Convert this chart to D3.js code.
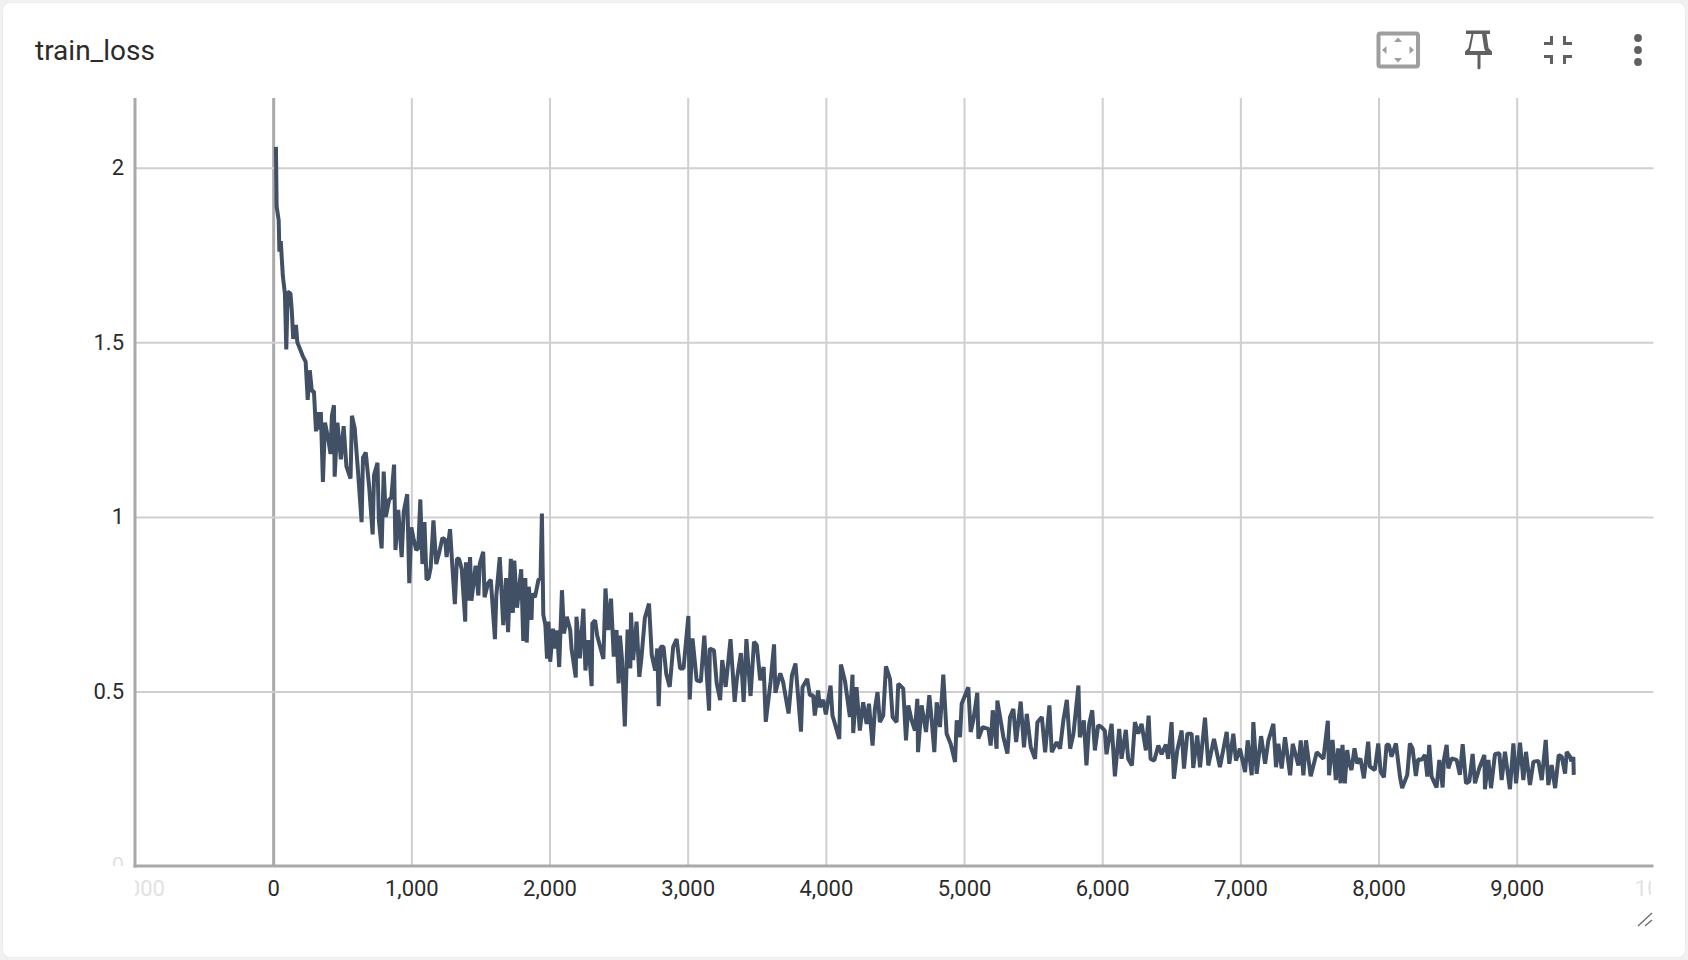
<!doctype html>
<html>
<head>
    <script src="https://d3js.org/d3.v7.min.js"></script>
    <style>
        html, body { margin: 0; padding: 0; background: #f1f1f1; }
        svg { display: block; }
        text { font-family: Roboto, sans-serif; }
    </style>
</head>
<body>
    <script>
        const chartTitle = "train_loss";
        const xTicks = [0, 1000, 2000, 3000, 4000, 5000, 6000, 7000, 8000, 9000];
        const yTicks = [0.5, 1, 1.5, 2];
        // steps read off the picture, not evenly spaced (tensorboard samples them)
        const steps = [
            20,25,40,45,55,70,85,95,105,125,
            135,145,165,175,195,215,235,250,265,280,
            295,310,325,340,345,360,375,400,415,425,
            440,445,465,490,510,530,560,570,590,615,
            640,650,670,695,720,730,755,765,785,800,
            815,840,855,875,885,905,930,945,970,985,
            1000,1015,1035,1050,1065,1080,1095,1110,1125,1140,
            1160,1180,1200,1225,1245,1255,1280,1295,1315,1330,
            1345,1365,1390,1395,1410,1425,1435,1465,1485,1495,
            1520,1530,1555,1575,1605,1615,1640,1665,1685,1700,
            1720,1735,1745,1765,1795,1810,1825,1835,1850,1870,
            1875,1895,1920,1935,1945,1955,1970,1982,1992,2005,
            2025,2040,2055,2070,2090,2105,2125,2150,2160,2190,
            2195,2210,2220,2245,2260,2280,2305,2310,2330,2345,
            2390,2405,2425,2445,2465,2485,2500,2510,2525,2545,
            2565,2585,2590,2605,2630,2650,2665,2690,2720,2740,
            2765,2780,2790,2805,2825,2845,2870,2895,2920,2945,
            2970,3005,3015,3035,3065,3095,3120,3155,3160,3190,
            3210,3235,3250,3275,3310,3340,3355,3385,3405,3425,
            3455,3480,3500,3525,3550,3565,3600,3625,3635,3670,
            3690,3730,3755,3780,3820,3831,3865,3884,3908,3920,
            3944,3957,3981,4000,4034,4048,4097,4109,4138,4174,
            4193,4198,4222,4246,4270,4295,4312,4338,4355,4374,
            4391,4415,4435,4464,4483,4512,4524,4560,4580,4597,
            4621,4645,4662,4667,4693,4725,4749,4766,4785,4802,
            4826,4850,4874,4903,4935,4947,4971,4983,5031,5048,
            5067,5096,5104,5135,5176,5193,5208,5236,5241,5285,
            5314,5333,5357,5377,5410,5434,5454,5483,5514,5531,
            5563,5587,5618,5635,5671,5695,5719,5744,5768,5792,
            5828,5838,5867,5886,5906,5928,5947,5971,5995,6019,
            6031,6068,6092,6123,6140,6171,6188,6215,6237,6261,
            6285,6316,6336,6350,6377,6406,6430,6461,6478,6502,
            6519,6543,6575,6592,6616,6647,6659,6688,6708,6744,
            6768,6809,6852,6901,6920,6949,6968,6997,7034,7053,
            7082,7094,7118,7150,7179,7203,7239,7258,7275,7299,
            7323,7360,7379,7420,7437,7456,7475,7509,7553,7601,
            7633,7642,7667,7691,7708,7725,7739,7756,7773,7787,
            7804,7826,7845,7869,7894,7925,7937,7973,7998,8015,
            8039,8058,8075,8094,8126,8155,8171,8208,8227,8246,
            8270,8287,8311,8336,8353,8367,8384,8420,8440,8464,
            8473,8493,8505,8529,8565,8589,8609,8633,8657,8681,
            8698,8729,8766,8770,8795,8814,8843,8874,8891,8915,
            8951,8976,8995,9024,9048,9067,9096,9121,9157,9181,
            9210,9229,9253,9278,9304,9326,9350,9362,9386,9395,
            9410,9413
        ];
        const loss = [
            2.06,1.89,1.85,1.76,1.79,1.69,1.64,1.48,1.645,1.64,
            1.59,1.51,1.55,1.50,1.48,1.46,1.445,1.335,1.42,1.36,
            1.36,1.245,1.30,1.25,1.30,1.10,1.27,1.22,1.18,1.29,
            1.32,1.115,1.27,1.165,1.26,1.145,1.11,1.29,1.255,1.125,
            .985,1.17,1.185,1.085,.95,1.12,1.155,.99,.91,1.13,
            1.0,1.05,1.055,1.15,.905,1.02,.885,1.015,1.065,.81,
            .97,.94,.905,.91,1.05,.865,.985,.82,.825,.855,
            .99,.865,.895,.94,.935,.885,.965,.87,.75,.88,
            .88,.85,.70,.87,.76,.885,.76,.86,.775,.865,
            .90,.77,.81,.82,.65,.775,.885,.69,.825,.67,
            .88,.725,.875,.74,.85,.645,.825,.64,.80,.705,
            .78,.77,.82,.825,1.01,.72,.69,.594,.70,.585,
            .68,.623,.675,.57,.79,.666,.714,.675,.62,.54,
            .714,.647,.595,.737,.56,.647,.515,.695,.704,.66,
            .593,.795,.676,.766,.60,.676,.523,.66,.59,.40,
            .677,.566,.726,.59,.70,.542,.595,.71,.752,.604,
            .56,.623,.458,.628,.628,.55,.513,.628,.65,.566,
            .566,.716,.477,.652,.532,.528,.66,.445,.623,.618,
            .523,.475,.59,.513,.65,.47,.532,.61,.47,.65,
            .487,.642,.633,.532,.57,.413,.528,.635,.496,.552,
            .528,.437,.547,.58,.385,.512,.536,.489,.489,.431,
            .503,.455,.476,.434,.517,.431,.364,.577,.531,.427,
            .548,.381,.512,.388,.469,.407,.465,.345,.45,.498,
            .412,.431,.572,.536,.427,.412,.522,.508,.36,.46,
            .417,.388,.479,.326,.46,.384,.489,.417,.326,.469,
            .398,.548,.379,.35,.298,.417,.369,.465,.512,.384,
            .417,.496,.365,.398,.393,.345,.446,.336,.474,.369,
            .322,.427,.45,.355,.471,.34,.436,.34,.307,.412,
            .427,.326,.46,.326,.355,.336,.417,.476,.336,.379,
            .517,.369,.417,.288,.407,.446,.331,.403,.398,.388,
            .32,.407,.257,.393,.307,.39,.307,.288,.412,.379,
            .407,.331,.431,.307,.302,.345,.32,.348,.307,.412,
            .25,.331,.388,.279,.379,.379,.281,.374,.283,.425,
            .288,.364,.283,.384,.293,.379,.302,.336,.269,.36,
            .26,.412,.264,.372,.293,.36,.407,.283,.35,.279,
            .369,.26,.35,.288,.36,.26,.36,.257,.326,.307,
            .416,.26,.361,.246,.337,.237,.347,.237,.332,.294,
            .275,.337,.294,.308,.251,.356,.285,.275,.351,.27,
            .254,.347,.347,.313,.351,.256,.223,.261,.351,.337,
            .258,.306,.304,.318,.256,.347,.256,.225,.304,.225,
            .304,.347,.28,.308,.304,.261,.349,.237,.242,.321,
            .237,.28,.318,.22,.304,.223,.321,.323,.246,.327,
            .22,.351,.237,.353,.246,.327,.232,.299,.301,.246,
            .361,.232,.289,.223,.318,.313,.265,.327,.313,.30,
            .312,.261
        ];

        const width = 1688, height = 960;
        const plotLeft = 135, plotRight = 1653.5, plotTop = 98, plotBottom = 866;
        const gridColor = "#cfcfcf", axisColor = "#a9a9a9", textColor = "#2b2b2b";

        let x = d3.scaleLinear().domain([-1000, 9990]).range([plotLeft, plotRight]);
        let y = d3.scaleLinear().domain([0, 2.2]).range([plotBottom, plotTop]);

        let svg = d3.select("body").append("svg").attr("width", width).attr("height", height);

        // card
        svg.append("rect").attr("x", 2.5).attr("y", 2.5).attr("width", 1683).attr("height", 955)
            .attr("rx", 8).attr("fill", "#fff").attr("stroke", "#ececec");

        svg.append("text").attr("x", 35).attr("y", 60).attr("font-size", 28)
            .attr("fill", textColor).text(chartTitle);

        // grid from the axis generators
        let xGrid = svg.append("g").attr("transform", `translate(0,${plotBottom})`)
            .call(d3.axisBottom(x).tickValues(xTicks).tickSize(-(plotBottom - plotTop)).tickFormat(d3.format(",")));
        let yGrid = svg.append("g").attr("transform", `translate(${plotLeft},0)`)
            .call(d3.axisLeft(y).tickValues(yTicks).tickSize(-(plotRight - plotLeft)).tickFormat(d3.format("")));
        xGrid.select(".domain").remove();
        yGrid.select(".domain").remove();
        svg.selectAll("g.tick line").attr("stroke", gridColor).attr("stroke-width", 2);
        xGrid.selectAll("g.tick").filter(d => d === 0).select("line").attr("stroke", axisColor).attr("stroke-width", 3);
        xGrid.selectAll("text").attr("font-family", "Roboto").attr("font-size", 22)
            .attr("fill", textColor).attr("dy", "0.32em").attr("y", 23);
        yGrid.selectAll("text").attr("font-family", "Roboto").attr("font-size", 22)
            .attr("fill", textColor).attr("x", -11);

        // tick labels cut off at the ends of the axes
        let defs = svg.append("defs");
        defs.append("clipPath").attr("id", "xclip").append("rect")
            .attr("x", plotLeft).attr("y", plotBottom).attr("width", 1651 - plotLeft).attr("height", 60);
        defs.append("clipPath").attr("id", "yclip").append("rect")
            .attr("x", 60).attr("y", plotTop).attr("width", plotLeft - 60).attr("height", plotBottom - plotTop);
        let fadedX = svg.append("g").attr("clip-path", "url(#xclip)")
            .attr("font-size", 22).attr("fill", "#e2e2e2").attr("text-anchor", "middle");
        fadedX.append("text").attr("x", x(-1000)).attr("y", plotBottom + 23).attr("dy", "0.32em").text("-1,000");
        fadedX.append("text").attr("x", x(10000) + 13).attr("y", plotBottom + 23).attr("dy", "0.32em").text("10,000");
        svg.append("g").attr("clip-path", "url(#yclip)").append("text")
            .attr("x", plotLeft - 11).attr("y", y(0)).attr("dy", "0.32em").attr("text-anchor", "end")
            .attr("font-size", 22).attr("fill", "#e2e2e2").text("0");

        // axes lines
        svg.append("line").attr("x1", plotLeft).attr("x2", plotLeft).attr("y1", plotTop).attr("y2", plotBottom + 1.5)
            .attr("stroke", axisColor).attr("stroke-width", 3);
        svg.append("line").attr("x1", plotLeft - 1.5).attr("x2", plotRight).attr("y1", plotBottom).attr("y2", plotBottom)
            .attr("stroke", axisColor).attr("stroke-width", 3);

        let line = d3.line().x((d, i) => x(steps[i])).y(d => y(d));
        svg.append("path").datum(loss).attr("d", line)
            .attr("fill", "none").attr("stroke", "#425066").attr("stroke-width", 4)
            .attr("stroke-linejoin", "bevel");

        // toolbar icons
        let icons = svg.append("g");
        let fit = icons.append("g").attr("fill", "#9e9e9e");
        fit.append("rect").attr("x", 1378.5).attr("y", 33.5).attr("width", 39.5).attr("height", 33).attr("rx", 2)
            .attr("fill", "none").attr("stroke", "#9e9e9e").attr("stroke-width", 4);
        fit.append("path").attr("d", "M1398 37.5l4 4.5h-8z M1398 62.5l4-4.5h-8z M1382 50l4.5-4v8z M1414 50l-4.5-4v8z");
        icons.append("path").attr("fill", "#616161").attr("fill-rule", "evenodd")
            .attr("d", "M1466 30.5h24v3.5h-3.5l2 14 3.5 3.5v3.5h-11.5v13.5l-1.5 1-1.5-1v-13.5h-12.5v-3.5l3.5-3.5 3-14h-5.5z M1473.5 34l-2.8 14.5 -1 2.5h15.5l-1-2.5-2.2-14.5z");
        icons.append("path").attr("fill", "#616161")
            .attr("d", "M1544 42h6v-6h3v9h-9z M1572 42h-6v-6h-3v9h9z M1544 55h9v9h-3v-6h-6z M1572 55h-9v9h3v-6h6z");
        icons.append("g").attr("fill", "#616161").selectAll("circle").data([38, 50, 62]).enter().append("circle")
            .attr("cx", 1638).attr("cy", d => d).attr("r", 3.9);

        // resize grip
        svg.append("path").attr("d", "M1638 926L1652 913 M1645 926L1652 920")
            .attr("stroke", "#666").attr("stroke-width", 1.2).attr("fill", "none");
    </script>
</body>
</html>
